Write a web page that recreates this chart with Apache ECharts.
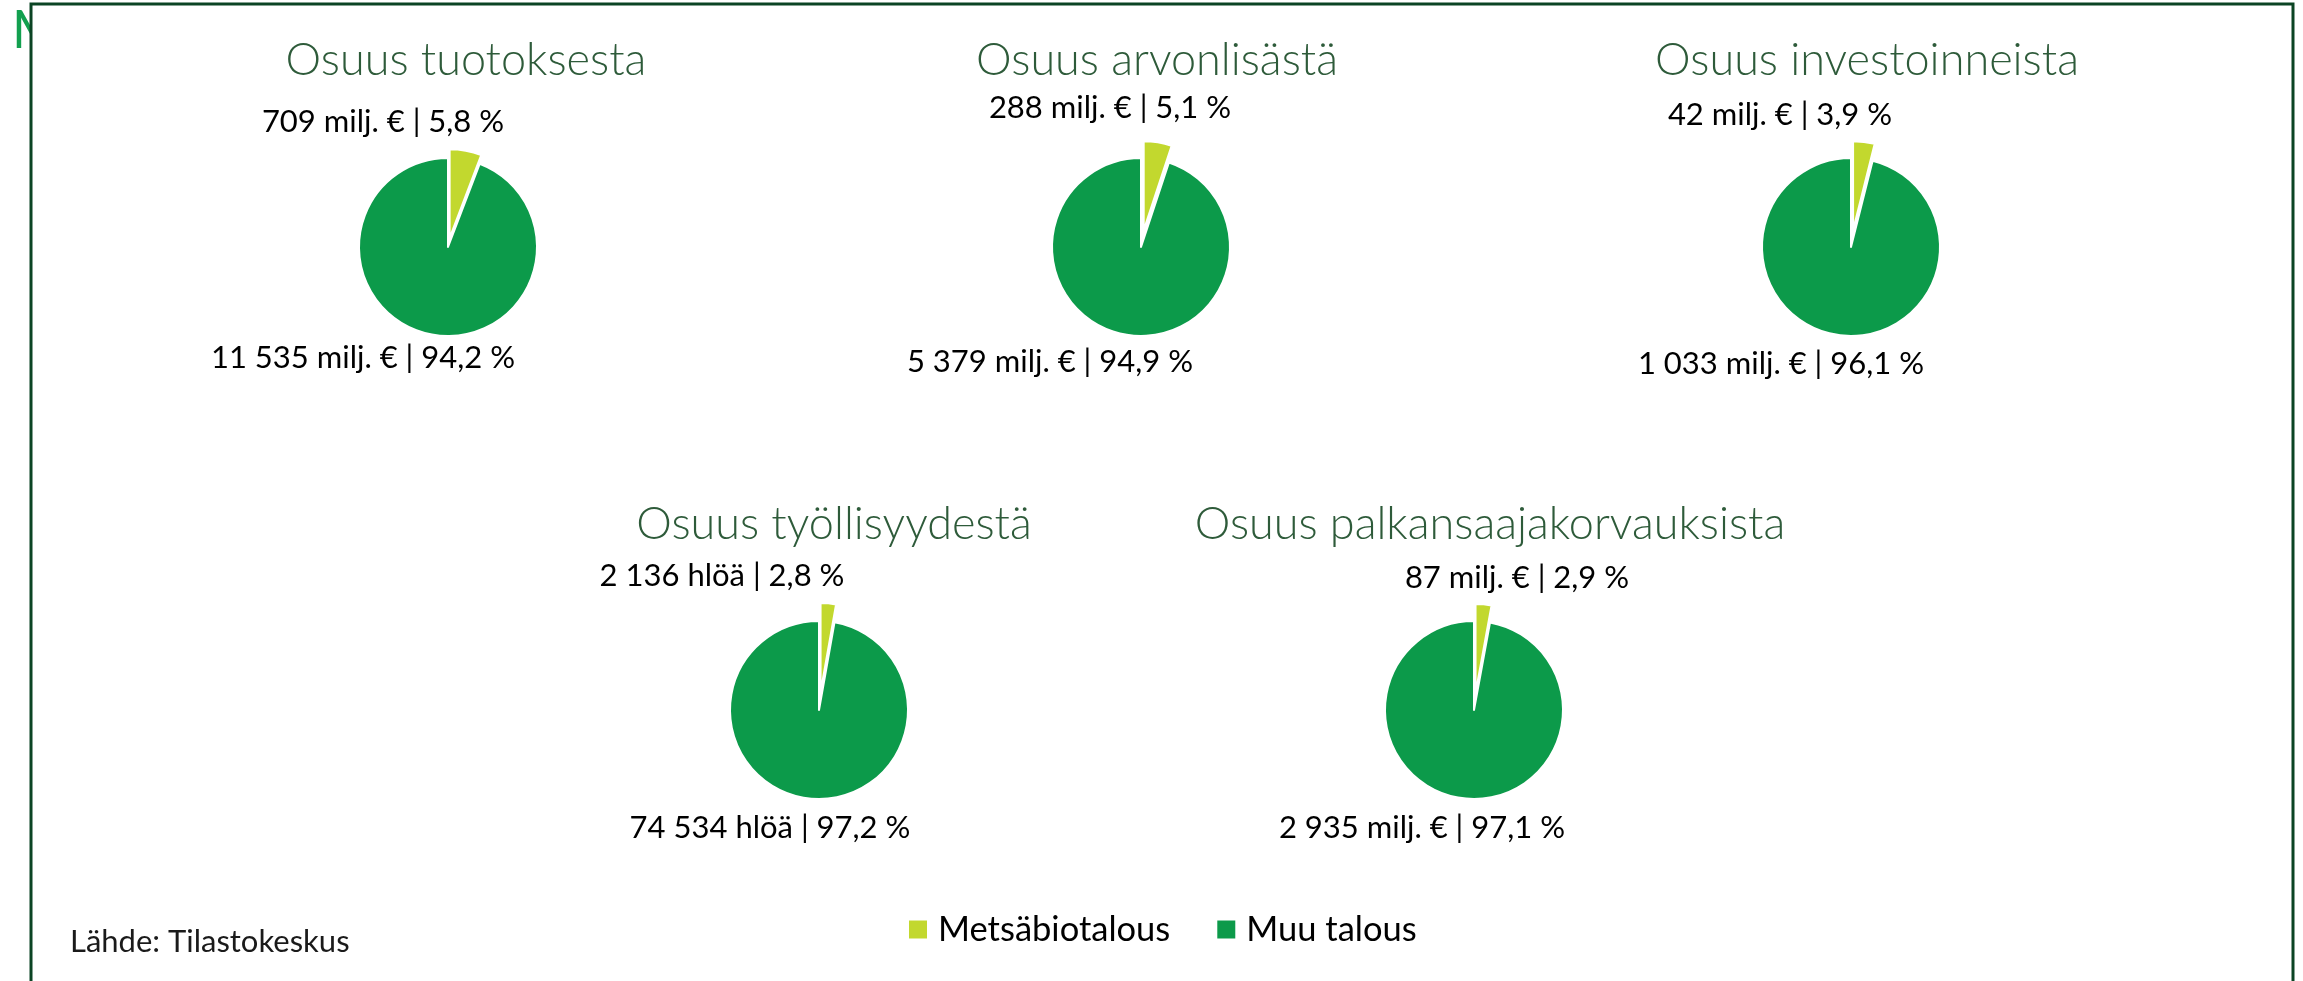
<!DOCTYPE html>
<html>
<head>
<meta charset="utf-8">
<script src="https://cdn.jsdelivr.net/npm/echarts@6/dist/echarts.min.js"></script>
<style>
  html, body { margin: 0; padding: 0; background: #fff; }
  #chart { width: 2303px; height: 981px; }
</style>
</head>
<body>
<div id="chart"></div>
<script>
// data
const categories = ["Metsäbiotalous", "Muu talous"];
const titles = ["Osuus tuotoksesta", "Osuus arvonlisästä", "Osuus investoinneista", "Osuus työllisyydestä", "Osuus palkansaajakorvauksista"];
const forestValues = [709, 288, 42, 2136, 87];
const otherValues = [11535, 5379, 1033, 74534, 2935];
const units = ["milj. €", "milj. €", "milj. €", "hlöä", "milj. €"];

// layout (px)
const centers = [[448, 247], [1141, 247], [1851, 247], [819, 710], [1474, 710]];
const titlePos = [[466, 60], [1157, 60], [1867, 60], [834, 524], [1490, 524]];
const explode = [9, 17, 17, 18, 17];
// label centre offsets from the pie centre: [slice 0, slice 1]
const labelOffsets = [
  [[-65, -125], [-85, 111]],
  [[-31, -139], [-91, 115]],
  [[-71, -132], [-70, 117]],
  [[-97, -134], [-49, 118]],
  [[43, -132], [-52, 118]]
];

const colors = ["#c2d82e", "#0c9a4a"];
const font = "Lato, 'Open Sans', sans-serif";

function fmtNum(v) {
  return String(v).replace(/\B(?=(\d{3})+(?!\d))/g, " ");
}

const myChart = echarts.init(document.getElementById("chart"));

const option = {
  backgroundColor: "#fff",
  animation: false,
  color: colors,
  title: titles.map((t, i) => ({
    text: t,
    left: titlePos[i][0],
    top: titlePos[i][1],
    textAlign: "center",
    textVerticalAlign: "middle",
    padding: 0,
    textStyle: { fontFamily: font, fontWeight: 300, fontSize: 45, color: "#2e5b3a" }
  })),
  legend: {
    data: categories,
    left: 907,
    top: 912,
    padding: 0,
    icon: "rect",
    itemWidth: 20,
    itemHeight: 20,
    itemGap: 45,
    selectedMode: false,
    textStyle: { fontFamily: font, fontSize: 34.5, color: "#000", padding: [0, 0, 0, 5] }
  },
  graphic: [
    {
      type: "text", x: 12, y: 31, z: 0,
      style: { text: "M", font: "52px Lato", fill: "#12a04f", verticalAlign: "middle" }
    },
    {
      type: "rect", z: 1,
      shape: { x: 31, y: 4, width: 2262, height: 1010 },
      style: { fill: "#fff", stroke: "#0b4424", lineWidth: 3 }
    },
    {
      type: "text", x: 70, y: 942, z: 3,
      style: { text: "Lähde: Tilastokeskus", font: "31px Lato", fill: "#1a1a1a", verticalAlign: "middle" }
    }
  ],
  series: titles.map((t, i) => ({
    type: "pie",
    name: t,
    center: centers[i],
    radius: 89,
    startAngle: 90,
    clockwise: true,
    avoidLabelOverlap: false,
    selectedMode: "single",
    selectedOffset: explode[i],
    itemStyle: { borderColor: "#fff", borderWidth: 2 },
    emphasis: { disabled: true },
    label: {
      show: true,
      position: "outside",
      fontFamily: font,
      fontSize: 31,
      color: "#000",
      formatter: p => fmtNum(p.value) + " " + units[i] + " | " + p.percent.toFixed(1).replace(".", ",") + " %"
    },
    labelLine: { show: false },
    // move each label so its centre sits at the wanted offset from the pie centre
    labelLayout: p => {
      const s = p.seriesIndex;
      const o = labelOffsets[s][p.dataIndex];
      const c = centers[s];
      const r = p.labelRect;
      let dx = c[0] + o[0] - (r.x + r.width / 2);
      let dy = c[1] + o[1] - (r.y + r.height / 2);
      if (p.dataIndex === 0) {
        // the exploded slice carries its label outwards; take that back
        const a = Math.PI * forestValues[s] / (forestValues[s] + otherValues[s]);
        dx -= explode[s] * Math.sin(a);
        dy += explode[s] * Math.cos(a);
      }
      return { dx, dy };
    },
    data: [
      { name: categories[0], value: forestValues[i], selected: true },
      { name: categories[1], value: otherValues[i] }
    ]
  }))
};

myChart.setOption(option);

window.addEventListener("resize", () => {
  myChart.resize();
});
</script>
</body>
</html>
